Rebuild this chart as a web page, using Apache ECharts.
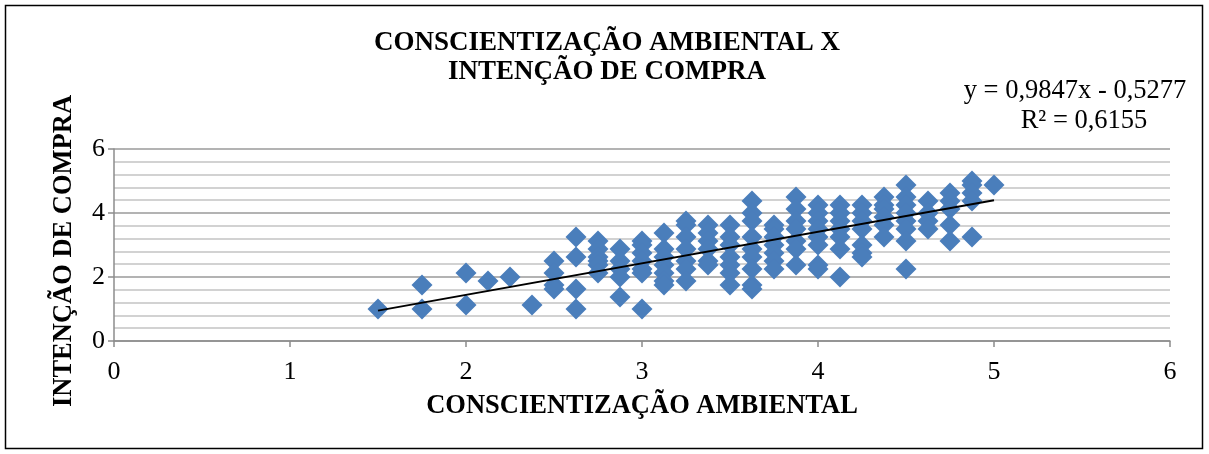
<!DOCTYPE html>
<html>
<head>
<meta charset="utf-8">
<script src="https://cdn.jsdelivr.net/npm/echarts@6/dist/echarts.min.js"></script>
<style>
html,body{margin:0;padding:0;background:#fff;}
#chart{width:1209px;height:454px;}
</style>
</head>
<body>
<div id="chart"></div>
<script>
// Consciência ambiental (x) and intenção de compra (y), one entry per respondent
const consc = [
  1.5,
  1.75,1.75,
  2.0,2.0,
  2.125,
  2.25,
  2.375,
  2.5,2.5,2.5,2.5,
  2.625,2.625,2.625,2.625,
  2.75,2.75,2.75,2.75,2.75,2.75,
  2.875,2.875,2.875,2.875,2.875,
  3.0,3.0,3.0,3.0,3.0,3.0,3.0,
  3.125,3.125,3.125,3.125,3.125,3.125,3.125,
  3.25,3.25,3.25,3.25,3.25,3.25,3.25,
  3.375,3.375,3.375,3.375,3.375,3.375,
  3.5,3.5,3.5,3.5,3.5,3.5,3.5,
  3.625,3.625,3.625,3.625,3.625,3.625,3.625,3.625,3.625,
  3.75,3.75,3.75,3.75,3.75,3.75,3.75,
  3.875,3.875,3.875,3.875,3.875,3.875,3.875,
  4.0,4.0,4.0,4.0,4.0,4.0,4.0,4.0,
  4.125,4.125,4.125,4.125,4.125,4.125,4.125,
  4.25,4.25,4.25,4.25,4.25,4.25,4.25,
  4.375,4.375,4.375,4.375,4.375,4.375,
  4.5,4.5,4.5,4.5,4.5,4.5,4.5,4.5,
  4.625,4.625,4.625,4.625,
  4.75,4.75,4.75,4.75,4.75,
  4.875,4.875,4.875,4.875,4.875,
  5.0
];
const intent = [
  1.0,
  1.75,1.0,
  2.125,1.125,
  1.875,
  2.0,
  1.125,
  2.5,2.125,1.75,1.625,
  3.25,2.625,1.625,1.0,
  3.125,2.875,2.625,2.5,2.375,2.125,
  2.875,2.5,2.25,2.0,1.375,
  3.125,3.0,2.75,2.5,2.25,2.125,1.0,
  3.375,2.875,2.625,2.375,2.125,1.875,1.75,
  3.75,3.625,3.25,2.875,2.5,2.25,1.875,
  3.625,3.375,3.125,2.875,2.5,2.375,
  3.625,3.25,3.0,2.625,2.375,2.125,1.75,
  4.375,4.0,3.75,3.25,2.875,2.625,2.25,1.75,1.625,
  3.625,3.5,3.25,3.0,2.75,2.5,2.25,
  4.5,4.125,3.75,3.5,3.125,2.875,2.375,
  4.25,4.0,3.75,3.5,3.25,3.0,2.375,2.25,
  4.25,4.0,3.75,3.5,3.25,2.875,2.0,
  4.25,4.0,3.75,3.5,3.0,2.75,2.625,
  4.5,4.25,4.125,3.875,3.625,3.25,
  4.875,4.5,4.25,4.0,3.75,3.5,3.125,2.25,
  4.375,4.0,3.75,3.5,
  4.625,4.375,4.125,3.625,3.125,
  5.0,4.875,4.625,4.375,3.25,
  4.875
];
// Linear trendline reported in the chart
const trendSlope = 0.9847;
const trendIntercept = -0.5277;
const rSquared = 0.6155;
const titleLines = ['CONSCIENTIZAÇÃO AMBIENTAL X', 'INTENÇÃO DE COMPRA'];
const xName = 'CONSCIENTIZAÇÃO AMBIENTAL';
const yName = 'INTENÇÃO DE COMPRA';

const fmt = v => v.toFixed(4).replace('.', ',');
const eqLine1 = 'y = ' + fmt(trendSlope) + 'x - ' + fmt(Math.abs(trendIntercept));
const eqLine2 = 'R² = ' + fmt(rSquared);

const points = consc.map((x, i) => [x, intent[i]]);
const xMin = Math.min(...consc), xMax = Math.max(...consc);
const trendData = [[xMin, trendSlope * xMin + trendIntercept], [xMax, trendSlope * xMax + trendIntercept]];

const FONT = '"Liberation Serif", "Times New Roman", serif';
const chart = echarts.init(document.getElementById('chart'), null, {renderer: 'canvas'});
chart.setOption({
  animation: false,
  backgroundColor: '#fff',
  grid: {left: 114, right: 39, top: 149, bottom: 113, containLabel: false},
  xAxis: {
    type: 'value', min: 0, max: 6, interval: 1,
    name: xName, nameLocation: 'middle', nameGap: 52,
    nameTextStyle: {fontFamily: FONT, fontWeight: 'bold', fontSize: 26.5, color: '#000'},
    axisLine: {show: true, onZero: false, lineStyle: {color: '#8c8c8c', width: 1.5}},
    axisTick: {show: true, length: 6, lineStyle: {color: '#8c8c8c', width: 1.5}},
    axisLabel: {fontFamily: FONT, fontSize: 26, color: '#000', margin: 18},
    splitLine: {show: false}
  },
  yAxis: {
    type: 'value', min: 0, max: 6, interval: 2,
    name: yName, nameLocation: 'middle', nameGap: 36,
    nameTextStyle: {fontFamily: FONT, fontWeight: 'bold', fontSize: 26.5, color: '#000', padding: [0, 12, 0, 0]},
    axisLine: {show: true, lineStyle: {color: '#8c8c8c', width: 1.5}},
    axisTick: {show: true, length: 6, lineStyle: {color: '#8c8c8c', width: 1.5}},
    axisLabel: {fontFamily: FONT, fontSize: 26, color: '#000', margin: 9},
    splitLine: {show: true, lineStyle: {color: '#9a9a9a', width: 1.5}},
    minorTick: {show: false, splitNumber: 5},
    minorSplitLine: {show: true, lineStyle: {color: '#c4c4c4', width: 1.5}}
  },
  series: [
    {
      type: 'scatter', data: points, symbol: 'diamond', symbolSize: 21,
      itemStyle: {color: '#4a7ebb', opacity: 1}, z: 2
    },
    {
      type: 'line', data: trendData, symbol: 'none', silent: true,
      lineStyle: {color: '#000', width: 2}, z: 3
    }
  ],
  graphic: [
    {type: 'rect', shape: {x: 5.5, y: 5.5, width: 1197, height: 443},
     style: {fill: 'none', stroke: '#000', lineWidth: 1.5}, silent: true, z: -1},
    {type: 'text', x: 607, y: 43, style: {text: titleLines[0], font: 'bold 27px ' + FONT, fill: '#000', align: 'center', verticalAlign: 'middle'}},
    {type: 'text', x: 607, y: 72, style: {text: titleLines[1], font: 'bold 27px ' + FONT, fill: '#000', align: 'center', verticalAlign: 'middle'}},
    {type: 'text', x: 1075, y: 91, style: {text: eqLine1, font: '26.5px ' + FONT, fill: '#000', align: 'center', verticalAlign: 'middle'}},
    {type: 'text', x: 1084, y: 121, style: {text: eqLine2, font: '26.5px ' + FONT, fill: '#000', align: 'center', verticalAlign: 'middle'}}
  ]
});
</script>
</body>
</html>
